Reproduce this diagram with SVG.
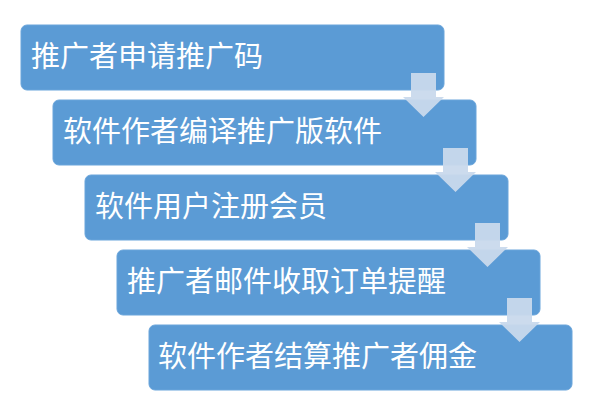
<svg xmlns="http://www.w3.org/2000/svg" width="596" height="412" viewBox="0 0 596 412">
<defs>
<style>
.box{fill:#5b9bd5;stroke:#6aa5db;stroke-width:1}
.lbl{fill:#ffffff;font-family:"Noto Sans CJK SC","Noto Sans",sans-serif;font-size:29px}
.arr{fill:#c9d9ec;opacity:0.95}
</style>
<polygon id="dn" class="arr" points="0,0 25,0 25,24 33,24 12.5,44 -8,24 0,24"/>
</defs>
<rect width="596" height="412" fill="#ffffff"/>
<g id="n1"><rect class="box" x="21" y="25" width="423" height="65" rx="6"/><text class="lbl" x="31" y="67">推广者申请推广码</text></g>
<g id="n2"><rect class="box" x="53" y="100" width="423" height="65" rx="6"/><text class="lbl" x="63" y="142">软件作者编译推广版软件</text></g>
<g id="n3"><rect class="box" x="85" y="175" width="423" height="65" rx="6"/><text class="lbl" x="95" y="217">软件用户注册会员</text></g>
<g id="n4"><rect class="box" x="117" y="250" width="423" height="65" rx="6"/><text class="lbl" x="127" y="292">推广者邮件收取订单提醒</text></g>
<g id="n5"><rect class="box" x="149" y="325" width="423" height="65" rx="6"/><text class="lbl" x="158" y="367">软件作者结算推广者佣金</text></g>
<g id="connectors">
<use href="#dn" x="411" y="73"/>
<use href="#dn" x="443" y="148"/>
<use href="#dn" x="475" y="223"/>
<use href="#dn" x="507" y="298"/>
</g>
</svg>
